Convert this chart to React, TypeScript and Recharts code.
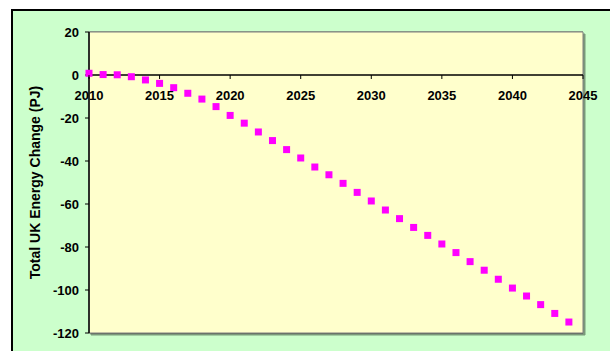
import {
    ScatterChart,
    Scatter,
    XAxis,
    YAxis,
    CartesianGrid,
    ReferenceArea,
    ReferenceLine,
} from 'recharts';

// Yearly change in total UK energy use (PJ) relative to 2010
const years = [
    2010, 2011, 2012, 2013, 2014, 2015, 2016, 2017, 2018, 2019,
    2020, 2021, 2022, 2023, 2024, 2025, 2026, 2027, 2028, 2029,
    2030, 2031, 2032, 2033, 2034, 2035, 2036, 2037, 2038, 2039,
    2040, 2041, 2042, 2043, 2044,
];
const energyChange = [
    0.8, 0.2, 0.1, -0.8, -2.3, -3.9, -5.9, -8.5, -11.2, -14.7,
    -18.8, -22.4, -26.5, -30.5, -34.7, -38.6, -42.8, -46.4, -50.4, -54.6,
    -58.6, -62.8, -66.8, -70.9, -74.6, -78.6, -82.6, -86.8, -90.8, -95.0,
    -99.1, -102.8, -106.8, -110.9, -114.9,
];
const xTicks = [2010, 2015, 2020, 2025, 2030, 2035, 2040, 2045];
const yTicks = [20, 0, -20, -40, -60, -80, -100, -120];

const Y_MIN = -120;
const Y_MAX = 20;
const CHART_W = 599;
const CHART_H = 340;
const MARGIN = { top: 21, right: 29, bottom: 0, left: 0 };
const X_AXIS_H = 18;
const PLOT_H = CHART_H - MARGIN.top - MARGIN.bottom - X_AXIS_H;

const FONT = 'Arial, "Liberation Sans", sans-serif';

const data = years.map((year, i) => ({ year, value: energyChange[i] }));

// x axis crosses at zero, so ticks and labels are lifted from the plot bottom
function CrossingTick(props: any) {
    const { x, y, payload } = props;
    const zeroY = y - (PLOT_H * (0 - Y_MIN)) / (Y_MAX - Y_MIN);
    return (
        <g>
            <line x1={x} y1={zeroY} x2={x} y2={zeroY + 4} stroke="#000" strokeWidth={1} />
            <text
                x={x}
                y={zeroY + 22}
                textAnchor="middle"
                dominantBaseline="middle"
                fontFamily={FONT}
                fontWeight="bold"
                fontSize={13}
                fill="#000"
            >
                {payload.value}
            </text>
        </g>
    );
}

function SquareDot(props: any) {
    const { cx, cy } = props;
    return <rect x={cx - 3.5} y={cy - 3.5} width={7} height={7} fill="#FF00FF" />;
}

export default function App() {
    return (
        <div style={{ position: 'absolute', left: 0, top: 0, width: 610, height: 351, overflow: 'hidden', background: '#fff' }}>
            <div
                style={{
                    position: 'absolute',
                    left: 11,
                    top: 9,
                    width: 620,
                    height: 360,
                    background: '#CCFFCC',
                    borderLeft: '2px solid #000',
                    borderTop: '2px solid #000',
                }}
            >
                <ScatterChart width={CHART_W} height={CHART_H} margin={MARGIN}>
                    <ReferenceArea
                        x1={2010}
                        x2={2045}
                        y1={Y_MIN}
                        y2={Y_MAX}
                        fill="#FFFFCC"
                        fillOpacity={1}
                        stroke="#808080"
                        strokeWidth={1}
                        style={{ filter: 'drop-shadow(2px 2px 0.5px rgba(0,0,0,0.4))' }}
                    />
                    <CartesianGrid vertical={false} stroke="#555" strokeWidth={1} />
                    <XAxis
                        type="number"
                        dataKey="year"
                        domain={[2010, 2045]}
                        ticks={xTicks}
                        height={X_AXIS_H}
                        axisLine={false}
                        tickLine={false}
                        tickSize={0}
                        tickMargin={0}
                        tick={<CrossingTick />}
                        interval={0}
                    />
                    <YAxis
                        type="number"
                        dataKey="value"
                        domain={[Y_MIN, Y_MAX]}
                        ticks={yTicks}
                        width={76}
                        interval={0}
                        axisLine={{ stroke: '#000', strokeWidth: 1.5 }}
                        tickLine={{ stroke: '#000' }}
                        tickSize={4}
                        tickMargin={6}
                        tick={{ fontFamily: FONT, fontWeight: 'bold', fontSize: 13, fill: '#000' }}
                        label={{
                            value: 'Total UK Energy Change (PJ)',
                            angle: -90,
                            position: 'center',
                            dx: -16,
                            style: { fontFamily: FONT, fontWeight: 'bold', fontSize: 14, fill: '#000' },
                        }}
                    />
                    <ReferenceLine y={0} stroke="#000" strokeWidth={1.5} />
                    <Scatter data={data} shape={<SquareDot />} isAnimationActive={false} />
                </ScatterChart>
            </div>
        </div>
    );
}
